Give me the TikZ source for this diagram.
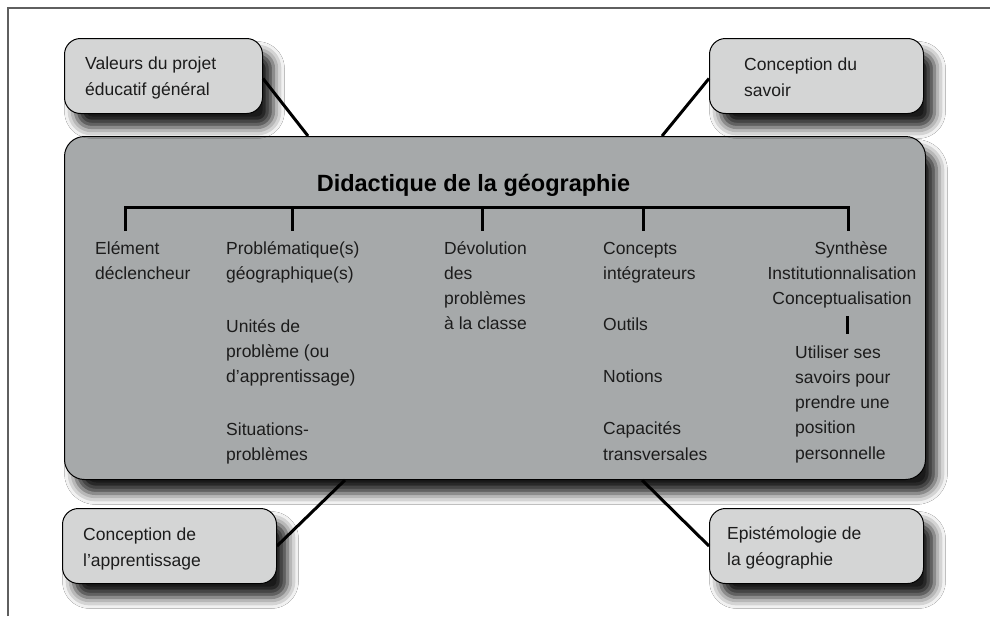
\documentclass[tikz,border=0pt]{standalone}
\usepackage{fontspec}
\setmainfont{Liberation Sans}
\usetikzlibrary{calc,shadows.blur}
\definecolor{mainfill}{RGB}{166,169,170}
\definecolor{smallfill}{RGB}{212,213,213}
\definecolor{framecol}{RGB}{95,95,95}
\definecolor{txt}{RGB}{28,28,28}
\begin{document}
\begin{tikzpicture}[x=1pt,y=-1pt,
  shad/.style={blur shadow={shadow xshift=11pt, shadow yshift=-14pt, shadow blur radius=11pt, shadow opacity=90}},
  mainbox/.style={draw=black, line width=1pt, fill=mainfill, rounded corners=20pt, anchor=north west, inner sep=0pt, shad},
  smallbox/.style={draw=black, line width=1pt, fill=smallfill, rounded corners=16pt, anchor=north west, inner sep=0pt, minimum height=75pt, shad},
  bodytext/.style={font=\fontsize{17.5}{25.3}\selectfont, text=txt, inner sep=0pt, align=left, anchor=base west},
  boxtext/.style={font=\fontsize{17.5}{26}\selectfont, text=txt, inner sep=0pt, align=left, anchor=base west},
  titletext/.style={font=\fontsize{23.5}{28}\selectfont\bfseries, text=black, inner sep=0pt, anchor=base},
  conn/.style={line width=3pt, black},
  brack/.style={line width=3pt, black}]
\useasboundingbox (0,0) rectangle (990,616);
\fill[white] (0,0) rectangle (990,616);
\draw[framecol, line width=1.5pt] (8,616) -- (8,8) -- (990,8);

% main box
\node[mainbox, minimum width=861pt, minimum height=343pt] (main) at (64,136) {};
% small boxes
\node[smallbox, minimum width=198pt] (val) at (64,38) {};
\node[smallbox, minimum width=214pt] (sav) at (709,38) {};
\node[smallbox, minimum width=214pt] (app) at (62,508) {};
\node[smallbox, minimum width=214pt] (epi) at (709,508) {};

% small box texts (anchored at the baseline of the last line)
\node[boxtext] (valt) at (85,95) {Valeurs du projet\\éducatif général};
\node[boxtext] (savt) at (744,96) {Conception du\\savoir};
\node[boxtext] (appt) at (83,566) {Conception de\\l’apprentissage};
\node[boxtext] (epit) at (727,565) {Epistémologie de\\la géographie};

% connectors
\draw[conn] ($(val.east)+(0,2.5)$) -- ($(main.north west)+(244,0)$);
\draw[conn] ($(sav.west)+(0,2.5)$) -- ($(main.north west)+(598,0)$);
\draw[conn] (app.east) -- ($(main.south west)+(281,0)$);
\draw[conn] (epi.west) -- ($(main.south west)+(578,0)$);

% title
\node[titletext] (title) at (473.5,191) {Didactique de la géographie};

% bracket
\coordinate (b1) at (125,207);
\coordinate (b2) at (292,207);
\coordinate (b3) at (482,207);
\coordinate (b4) at (643,207);
\coordinate (b5) at (848,207);
\draw[brack] ($(b1)+(0,24)$) -- (b1) -- (b5) -- ($(b5)+(0,24)$);
\draw[brack] (b2) -- ($(b2)+(0,24)$);
\draw[brack] (b3) -- ($(b3)+(0,24)$);
\draw[brack] (b4) -- ($(b4)+(0,24)$);

% columns (anchored at the baseline of the last line)
\node[bodytext] (c1) at (95,279.3) {Elément\\déclencheur};
\node[bodytext] (c2) at (226,460.8) {Problématique(s)\\géographique(s)\\[27.5pt]Unités de\\problème (ou\\d’apprentissage)\\[27.5pt]Situations-\\problèmes};
\node[bodytext] (c3) at (444,329.9) {Dévolution\\des\\problèmes\\à la classe};
\node[bodytext] (c4) at (603,460.2) {Concepts\\intégrateurs\\[26pt]Outils\\[26.7pt]Notions\\[27pt]Capacités\\transversales};
\node[bodytext, align=center, anchor=base] (c5) at (842,304.6) {\hspace*{18pt}Synthèse\\Institutionnalisation\\Conceptualisation};
\coordinate (t5) at (847,316);
\draw[brack] (t5) -- ($(t5)+(0,18)$);
\node[bodytext] (c6) at (795,459.2) {Utiliser ses\\savoirs pour\\prendre une\\position\\personnelle};
\end{tikzpicture}
\end{document}
